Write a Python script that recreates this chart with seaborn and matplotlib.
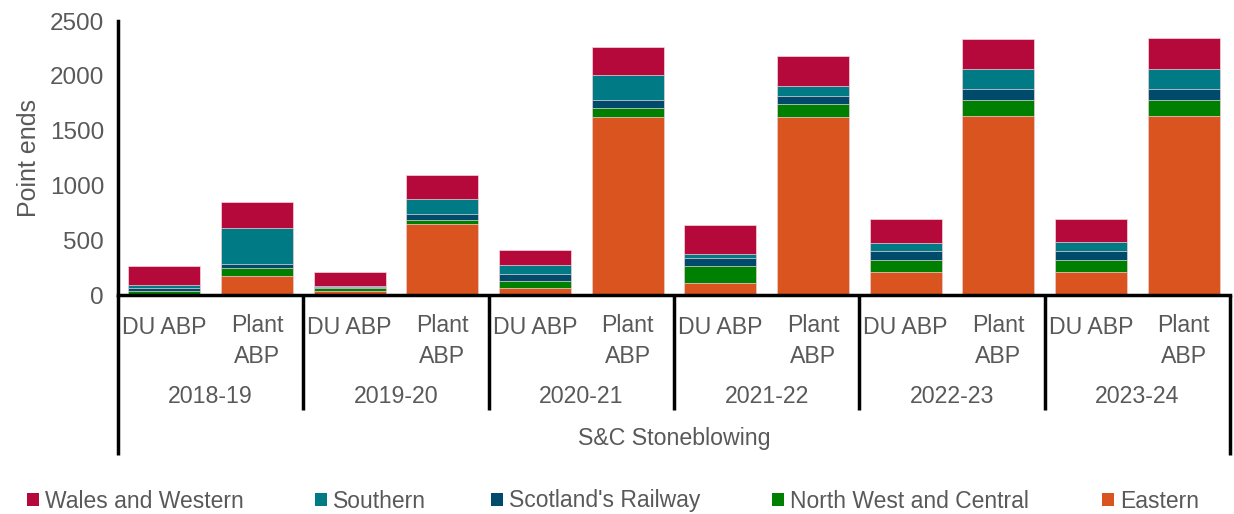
import numpy as np
import pandas as pd
import matplotlib
matplotlib.use("Agg")
import matplotlib.pyplot as plt
import matplotlib.transforms as mtransforms
from matplotlib.patches import Patch
import seaborn as sns

# ---- data -------------------------------------------------------------
years = ["2018-19", "2019-20", "2020-21", "2021-22", "2022-23", "2023-24"]
methods = ["DU ABP", "Plant\nABP"]
activity = "S&C Stoneblowing"
regions = ["Wales and Western", "Southern", "Scotland's Railway",
           "North West and Central", "Eastern"]

# values per bar, in order: year by year, DU ABP then Plant ABP
eastern = [5, 170, 40, 645, 62, 1620, 108, 1620, 214, 1630, 214, 1630]
nw_central = [30, 80, 25, 35, 70, 90, 155, 127, 107, 152, 107, 152]
scotland = [31, 35, 8, 60, 60, 65, 73, 73, 82, 94, 82, 94]
southern = [21, 325, 8, 140, 80, 230, 42, 83, 69, 189, 82, 189]
wales = [178, 240, 125, 215, 143, 258, 259, 279, 223, 270, 210, 279]

colors = {
    "Wales and Western": "#B5093B",
    "Southern": "#007B86",
    "Scotland's Railway": "#004A6C",
    "North West and Central": "#008000",
    "Eastern": "#DA541F",
}

# ---- layout -----------------------------------------------------------
sns.set_style("white")
plt.rcParams["font.family"] = ["Liberation Sans", "DejaVu Sans"]
GREY = "#595959"
FS = 16.7

fig = plt.figure(figsize=(12.34, 5.14), dpi=100)
ax = fig.add_axes([118 / 1234, 1 - 295 / 514, 1112 / 1234, 274 / 514])

bar_keys = [f"{y} {m}" for y in years for m in methods]
df = pd.DataFrame({
    "bar": bar_keys,
    "Eastern": eastern,
    "North West and Central": nw_central,
    "Scotland's Railway": scotland,
    "Southern": southern,
    "Wales and Western": wales,
})

# stack from the bottom: Eastern, NW&C, Scotland, Southern, Wales
stack_order = ["Eastern", "North West and Central", "Scotland's Railway",
               "Southern", "Wales and Western"]
cum = df[stack_order].cumsum(axis=1)

# draw cumulative heights from tallest to shortest so each layer shows
for reg in reversed(stack_order):
    sns.barplot(x=df["bar"], y=cum[reg], order=bar_keys, color=colors[reg],
                width=0.78, errorbar=None, saturation=1, ax=ax,
                edgecolor="#f4d9df", linewidth=0.5)

ax.set_xlim(-0.5, len(bar_keys) - 0.5)
ax.set_ylim(0, 2500)
ax.set_yticks(np.arange(0, 2501, 500))
ax.set_xticks([])
ax.set_xlabel("")
ax.set_ylabel("Point ends", fontsize=18, color=GREY, labelpad=6)

for side in ["top", "right"]:
    ax.spines[side].set_visible(False)
for side in ["left", "bottom"]:
    ax.spines[side].set_color("black")
    ax.spines[side].set_linewidth(2.5)
ax.tick_params(axis="y", direction="out", length=6, width=2.5, color="black",
               labelsize=17.5, labelcolor=GREY, pad=4)

# ---- multi-level category axis ---------------------------------------
trans = mtransforms.blended_transform_factory(ax.transData, ax.transAxes)
row_single = -0.118   # centre of one-line method labels
row_double = -0.071   # top of two-line method labels
row_year = -0.372
row_activity = -0.525
sep_short = -0.42
sep_long = -0.584

for i, key in enumerate(bar_keys):
    label = methods[i % 2]
    if "\n" in label:
        ax.text(i, row_double, label, transform=trans, ha="center", va="top",
                fontsize=FS, color=GREY, linespacing=1.42, clip_on=False)
    else:
        ax.text(i, row_single, label, transform=trans, ha="center",
                va="center", fontsize=FS, color=GREY, clip_on=False)

for g, yr in enumerate(years):
    ax.text(2 * g + 0.5, row_year, yr, transform=trans, ha="center",
            va="center", fontsize=FS, color=GREY, clip_on=False)

ax.text((len(bar_keys) - 1) / 2, row_activity, activity, transform=trans,
        ha="center", va="center", fontsize=FS, color=GREY, clip_on=False)

# separators between year groups and the outer frame lines
for g in range(1, len(years)):
    x = 2 * g - 0.5
    ax.plot([x, x], [0, sep_short], transform=trans, color="black",
            lw=2.5, clip_on=False, solid_capstyle="butt")
for x in [-0.5, len(bar_keys) - 0.5]:
    ax.plot([x, x], [0, sep_long], transform=trans, color="black",
            lw=2.5, clip_on=False, solid_capstyle="butt")

# ---- legend -----------------------------------------------------------
legend_x = [27, 315, 491, 772, 1102]
for reg, lx in zip(regions, legend_x):
    fig.legend(handles=[Patch(facecolor=colors[reg], edgecolor="none", label=reg)],
               loc="center left", bbox_to_anchor=(lx / 1234, 1 - 501 / 514),
               frameon=False, handlelength=0.52, handleheight=0.52,
               handletextpad=0.25, borderpad=0, borderaxespad=0,
               fontsize=16.5, labelcolor=GREY)

fig.savefig("out.png", dpi=100, facecolor="white")
